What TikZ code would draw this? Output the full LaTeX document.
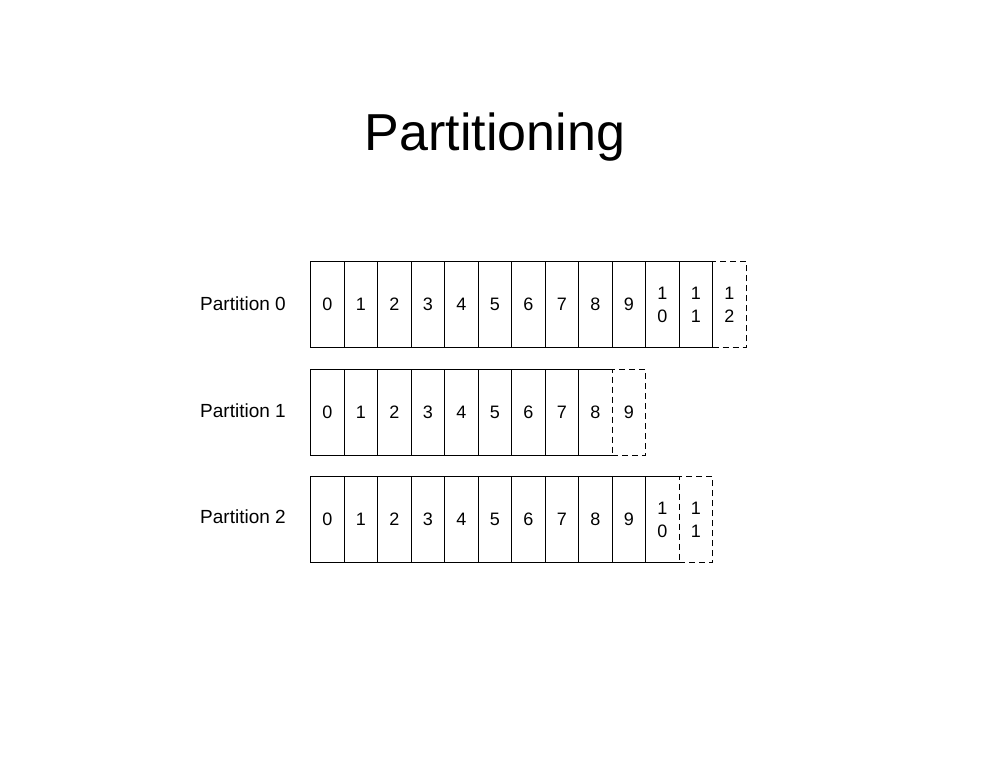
\documentclass[tikz,border=0pt]{standalone}
\usepackage{fontspec}
\setmainfont{Liberation Sans}
\begin{document}
\begin{tikzpicture}[x=1pt,y=-1pt,
  cell/.style={draw, line width=1.4pt, minimum width=33.5pt, minimum height=86pt,
    inner sep=0pt, anchor=north west, align=center,
    font=\fontsize{18}{23}\selectfont},
  newcell/.style={cell, dash pattern=on 6pt off 4pt, fill=white},
  lbl/.style={anchor=base west, inner sep=0pt, font=\fontsize{19}{22}\selectfont}]
\useasboundingbox (0,0) rectangle (990,765);
\node[font=\fontsize{52}{60}\selectfont, anchor=base, inner sep=0pt] (title) at (495,150) {Partitioning};
% Partition 0
\node[lbl] (l0) at (200,310) {Partition 0};
\foreach \i/\t in {0/0,1/1,2/2,3/3,4/4,5/5,6/6,7/7,8/8,9/9,10/{1\\0},11/{1\\1}}
  \node[cell] (pa\i) at ({310+33.5*\i},261) {\t};
\node[newcell] (pa12) at ({310+33.5*12},261) {1\\2};
% Partition 1
\node[lbl] (l1) at (200,417) {Partition 1};
\foreach \i in {0,...,8}
  \node[cell] (pb\i) at ({310+33.5*\i},369) {\i};
\node[newcell] (pb9) at ({310+33.5*9},369) {9};
% Partition 2
\node[lbl] (l2) at (200,523) {Partition 2};
\foreach \i/\t in {0/0,1/1,2/2,3/3,4/4,5/5,6/6,7/7,8/8,9/9,10/{1\\0}}
  \node[cell] (pc\i) at ({310+33.5*\i},476) {\t};
\node[newcell] (pc11) at ({310+33.5*11},476) {1\\1};
\end{tikzpicture}
\end{document}
